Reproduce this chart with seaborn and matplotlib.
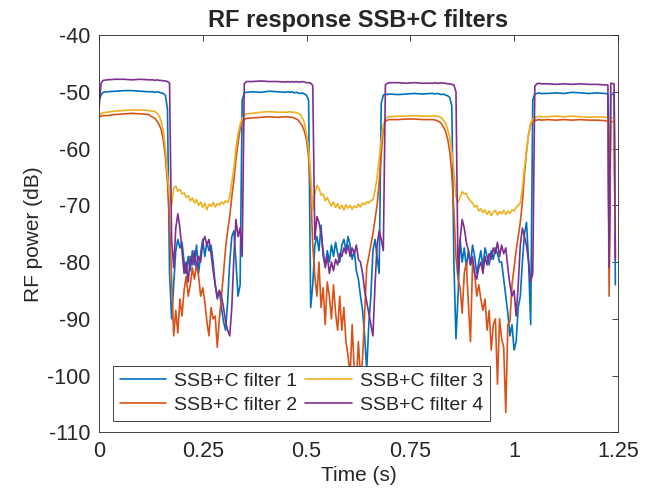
import numpy as np
import pandas as pd
import seaborn as sns
import matplotlib.pyplot as plt

# time grid: coarse on the flat parts, 5 ms steps through the dips
t = np.concatenate([
    [0, 0.005, 0.01, 0.02, 0.04, 0.06, 0.08, 0.10, 0.12],
    np.arange(125, 360, 5) / 1000,
    [0.37, 0.39, 0.41, 0.43, 0.45],
    np.arange(455, 705, 5) / 1000,
    [0.72, 0.74, 0.76, 0.78, 0.80],
    np.arange(805, 1070, 5) / 1000,
    [1.08, 1.10, 1.12, 1.14, 1.16, 1.18, 1.20, 1.22, 1.226, 1.229, 1.233, 1.241, 1.244],
])

filter1 = [
    -51.5, -50.6, -50.1, -50.0, -49.9, -49.8, -49.8, -49.9, -50.0,
    -50.0, -50.0, -50.1, -50.0, -50.1, -50.2, -50.3, -50.6, -53.0, -82.0,
    -90.0, -84.0, -78.0, -76.0, -77.5, -76.5, -80.0, -82.0, -79.0, -81.5,
    -78.0, -80.5, -77.0, -82.0, -78.5, -76.0, -79.0, -76.5, -78.0, -77.0,
    -80.0, -84.0, -86.0, -85.0, -88.0, -90.5, -92.0, -87.0, -80.0, -75.5,
    -74.5, -80.0, -86.0, -84.0, -51.5, -50.2, -50.1,
    -50.0, -50.1, -49.9, -50.0, -50.1,
    -50.0, -50.1, -50.0, -50.2, -50.1, -50.2, -50.3, -50.2, -50.4, -50.6,
    -51.5, -88.0, -84.0, -77.0, -75.5, -78.0, -73.5, -79.0, -80.5, -78.0,
    -80.0, -77.0, -79.0, -76.5, -78.5, -80.0, -77.0, -76.0, -78.0, -75.5,
    -77.0, -79.5, -78.0, -81.5, -83.0, -86.0, -88.5, -93.0, -99.0, -91.0,
    -86.0, -78.0, -76.0, -79.0, -82.0, -52.0, -50.6, -50.4, -50.5, -50.4,
    -50.5, -50.4, -50.3, -50.4, -50.3,
    -50.3, -50.4, -50.3, -50.4, -50.5, -50.4, -50.6, -50.7, -51.0, -52.5,
    -80.0, -93.5, -86.0, -76.0, -80.0, -77.5, -81.0, -78.0, -80.5, -77.0,
    -79.0, -82.0, -80.0, -78.0, -81.0, -77.5, -79.0, -80.5, -78.0, -79.5,
    -77.5, -78.5, -80.0, -80.0, -83.0, -86.0, -89.0, -93.0, -91.0, -95.5,
    -94.0, -88.0, -86.0, -80.0, -75.0, -73.0, -80.0, -91.0, -51.5, -50.4,
    -50.3, -50.2, -50.3,
    -50.3, -50.2, -50.3, -50.1, -50.2, -50.3, -50.2, -50.3, -50.4, -80.0, -50.5, -50.4, -84.0,
]

filter2 = [
    -54.5, -54.3, -54.2, -54.2, -54.0, -53.9, -53.8, -53.9, -54.0,
    -54.3, -54.5, -54.7, -55.2, -55.8, -56.7, -58.5, -61.5, -66.0, -73.0,
    -83.0, -93.0, -88.5, -92.5, -86.5, -89.5, -85.0, -82.5, -86.0, -84.0,
    -81.0, -83.0, -80.5, -82.5, -86.0, -84.5, -87.0, -90.5, -93.0, -88.0,
    -90.0, -89.5, -95.0, -90.0, -86.0, -82.0, -77.5, -74.5, -72.0, -68.5,
    -65.5, -62.0, -59.0, -56.5, -55.3, -54.9, -54.7,
    -54.6, -54.5, -54.4, -54.5, -54.4,
    -54.4, -54.5, -54.5, -54.6, -54.8, -55.0, -55.5, -56.0, -57.0, -58.5,
    -61.5, -67.0, -77.0, -82.5, -86.0, -80.0, -88.0, -84.5, -91.0, -83.5,
    -86.0, -90.0, -84.0, -89.0, -92.0, -86.0, -92.0, -88.0, -94.0, -96.5,
    -100.0, -91.0, -99.0, -101.0, -94.0, -100.5, -97.0, -89.0, -81.0, -79.0,
    -77.0, -75.0, -72.5, -70.0, -66.0, -61.0, -56.5, -55.2, -55.0, -54.9,
    -54.9, -54.8, -54.8, -54.9, -54.9,
    -54.9, -55.0, -55.1, -55.3, -55.6, -56.2, -57.0, -58.3, -60.5, -64.5,
    -71.0, -79.0, -83.0, -84.5, -89.0, -82.0, -80.0, -87.5, -94.0, -80.0,
    -82.0, -86.0, -84.0, -86.5, -88.5, -86.5, -92.0, -88.5, -95.5, -91.0,
    -90.0, -101.5, -90.0, -93.5, -95.0, -106.5, -91.0, -90.5, -84.0, -81.0,
    -78.0, -75.5, -73.0, -69.5, -64.5, -60.5, -57.5, -55.8, -55.3, -55.0,
    -55.0, -54.9, -55.0,
    -54.9, -55.0, -54.9, -55.0, -54.9, -55.0, -55.0, -55.1, -55.2, -86.0, -55.3, -55.2, -79.0,
]

filter3 = [
    -54.2, -53.9, -53.7, -53.6, -53.4, -53.3, -53.2, -53.2, -53.3,
    -53.4, -53.4, -53.5, -53.8, -54.3, -55.2, -57.0, -60.0, -64.5, -68.5,
    -70.0, -67.0, -66.6, -67.5, -67.2, -68.0, -67.8, -68.6, -68.3, -69.2,
    -68.7, -69.6, -69.0, -70.0, -69.4, -70.4, -69.6, -70.8, -69.8, -70.2,
    -69.5, -70.3, -69.7, -70.0, -69.4, -69.8, -69.2, -69.5, -68.5, -66.0,
    -63.5, -60.0, -57.5, -55.8, -54.7, -54.2, -53.9,
    -53.8, -53.6, -53.5, -53.6, -53.6,
    -53.6, -53.5, -53.6, -53.6, -53.7, -53.8, -54.0, -54.6, -55.5, -57.5,
    -60.0, -64.5, -71.0, -68.0, -66.5, -67.0, -68.2, -68.0, -69.2, -68.6,
    -69.5, -70.1, -69.4, -70.4, -69.7, -70.6, -70.0, -70.8, -69.9, -70.5,
    -70.0, -70.7, -70.1, -70.4, -69.8, -70.3, -69.6, -69.9, -69.4, -69.6,
    -69.2, -69.0, -67.5, -65.0, -62.0, -58.5, -55.8, -54.8, -54.5, -54.4,
    -54.3, -54.3, -54.2, -54.3, -54.3,
    -54.2, -54.3, -54.3, -54.4, -54.6, -55.0, -55.6, -56.6, -58.0, -60.5,
    -64.0, -68.5, -69.5, -68.6, -67.6, -68.0, -67.9, -68.8, -69.2, -69.6,
    -70.3, -70.0, -71.0, -70.6, -71.3, -70.8, -71.6, -71.0, -71.8, -71.2,
    -70.9, -71.7, -71.1, -71.5, -70.9, -71.6, -71.0, -71.4, -70.8, -71.0,
    -70.4, -70.0, -69.6, -67.0, -63.5, -60.5, -57.5, -55.5, -54.8, -54.5,
    -54.4, -54.3, -54.4,
    -54.4, -54.3, -54.4, -54.3, -54.4, -54.5, -54.4, -54.5, -54.6, -70.0, -54.7, -54.6, -75.0,
]

filter4 = [
    -53.0, -48.5, -48.0, -47.9, -47.8, -47.8, -47.9, -47.8, -47.9,
    -47.9, -47.9, -48.0, -47.9, -48.0, -48.0, -48.1, -48.1, -48.2, -48.5,
    -76.0, -81.0, -74.0, -71.5, -74.0, -78.0, -82.0, -80.0, -83.5, -79.0,
    -80.5, -78.0, -81.0, -79.0, -80.0, -76.5, -75.5, -77.0, -76.0, -78.5,
    -81.5, -84.0, -86.5, -85.0, -86.0, -88.0, -90.5, -92.0, -93.0, -88.0,
    -79.0, -72.5, -75.5, -74.0, -79.0, -48.6, -48.2,
    -48.2, -48.1, -48.2, -48.2, -48.3,
    -48.2, -48.3, -48.2, -48.3, -48.2, -48.3, -48.3, -48.2, -48.3, -48.4,
    -48.4, -48.5, -48.9, -76.0, -72.0, -73.0, -75.0, -78.0, -81.0, -79.0,
    -82.0, -80.0, -81.5, -79.5, -80.5, -78.5, -79.0, -77.5, -78.5, -77.0,
    -79.0, -77.5, -78.5, -77.0, -79.5, -80.0, -82.0, -85.0, -87.0, -89.0,
    -91.0, -93.0, -84.0, -77.0, -74.5, -76.0, -78.0, -48.8, -48.5, -48.4,
    -48.4, -48.5, -48.4, -48.5, -48.5,
    -48.5, -48.4, -48.5, -48.5, -48.4, -48.5, -48.5, -48.6, -48.6, -48.7,
    -48.8, -50.0, -82.0, -76.0, -72.5, -74.0, -76.5, -78.0, -80.5, -79.0,
    -82.0, -83.0, -81.0, -80.0, -82.0, -79.0, -80.5, -78.5, -79.5, -77.5,
    -78.5, -76.5, -79.0, -77.0, -78.5, -77.5, -81.0, -84.0, -86.0, -85.0,
    -89.5, -84.0, -77.0, -74.0, -75.5, -77.0, -80.0, -83.5, -82.0, -49.0,
    -48.6, -48.5, -48.6,
    -48.6, -48.7, -48.6, -48.7, -48.6, -48.7, -48.7, -48.8, -48.8, -81.0, -48.5, -48.6, -79.5,
]

names = ['SSB+C filter 1', 'SSB+C filter 2', 'SSB+C filter 3', 'SSB+C filter 4']
colors = ['#0072BD', '#D95319', '#EDB120', '#7E2F8E']

df = pd.concat([pd.DataFrame({'t': t, 'dB': v, 'filter': n})
                for v, n in zip([filter1, filter2, filter3, filter4], names)])

sns.set_style('white')
plt.rcParams['font.family'] = ['Liberation Sans', 'DejaVu Sans']
plt.rcParams['axes.unicode_minus'] = False

fig = plt.figure(figsize=(6.49, 5.04), dpi=100)
ax = fig.add_axes([0.1525, 0.142, 0.7995, 0.7886])

sns.lineplot(data=df, x='t', y='dB', hue='filter', palette=colors,
             estimator=None, sort=False, linewidth=1.2, ax=ax)

ax.set_xlim(0, 1.25)
ax.set_ylim(-110, -40)
ax.set_xticks([0, 0.25, 0.5, 0.75, 1, 1.25])
ax.set_xticklabels(['0', '0.25', '0.5', '0.75', '1', '1.25'])
ax.set_yticks(range(-110, -39, 10))
ax.tick_params(direction='in', top=True, right=True, length=4, width=0.6,
               labelsize=15.5, colors='#262626', pad=6)
for s in ax.spines.values():
    s.set_color('#262626')
    s.set_linewidth(0.6)

ax.set_xlabel('Time (s)', fontsize=15, color='#262626', labelpad=3)
ax.set_ylabel('RF power (dB)', fontsize=15, color='#262626', labelpad=3)
ax.set_title('RF response SSB+C filters', fontsize=17, fontweight='bold', pad=6)

leg = ax.legend(loc='lower left', bbox_to_anchor=(0.027, 0.03), ncol=2,
                fontsize=14, frameon=True, fancybox=False, framealpha=1,
                edgecolor='#262626', handlelength=2.4, borderpad=0.35,
                labelspacing=0.3, columnspacing=0.4, handletextpad=0.4,
                borderaxespad=0)
leg.get_frame().set_linewidth(0.6)

fig.savefig('out.png', dpi=100)
